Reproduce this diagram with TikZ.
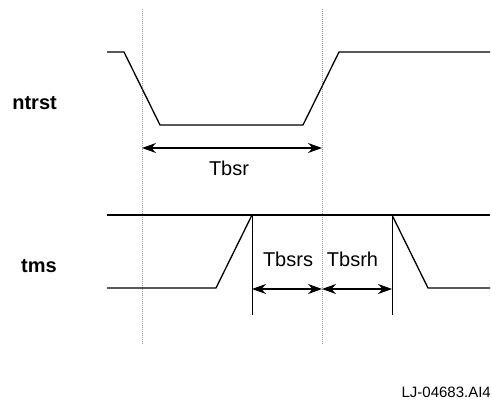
\documentclass[tikz,border=0pt]{standalone}
\usepackage{fontspec}
\setmainfont{Liberation Sans}
\usetikzlibrary{arrows.meta}
\begin{document}
\begin{tikzpicture}[x=1pt,y=-1pt,
  wave/.style={line width=1.3pt},
  guide/.style={line width=0.7pt,gray!85,dash pattern=on 1.2pt off 0.8pt},
  tick/.style={line width=0.9pt},
  dim/.style={line width=1.1pt,{Stealth[length=14pt,width=10pt]}-{Stealth[length=14pt,width=10pt]}},
  lbl/.style={font=\fontsize{20}{24}\selectfont,inner sep=0pt},
  sig/.style={font=\fontsize{20}{24}\selectfont\bfseries,inner sep=0pt,anchor=base east},
  ref/.style={font=\fontsize{15}{18}\selectfont,inner sep=0pt,anchor=base east}]
\useasboundingbox (0,0) rectangle (492,404);
% guide lines
\coordinate (g1t) at (142,9);  \coordinate (g1b) at (142,344);
\coordinate (g2t) at (322,9);  \coordinate (g2b) at (322,344);
\draw[guide] (g1t) -- (g1b);
\draw[guide] (g2t) -- (g2b);
% ntrst waveform
\coordinate (n0) at (107,52);
\coordinate (n1) at (124,52);
\coordinate (n2) at (160,125);
\coordinate (n3) at (303,125);
\coordinate (n4) at (339,52);
\coordinate (n5) at (490,52);
\draw[wave] (n0) -- (n1) -- (n2) -- (n3) -- (n4) -- (n5);
% tms waveform
\coordinate (th0) at (107,215);
\coordinate (th1) at (490,215);
\draw[wave] (th0) -- (th1);
\coordinate (t0) at (107,288);
\coordinate (t1) at (216,288);
\coordinate (t2) at (252,215);
\coordinate (t3) at (392,215);
\coordinate (t4) at (428,288);
\coordinate (t5) at (490,288);
\draw[wave] (t0) -- (t1) -- (t2);
\draw[wave] (t3) -- (t4) -- (t5);
% solid ticks
\coordinate (k1) at (252,315);
\coordinate (k2) at (392,315);
\draw[tick] (t2) -- (k1);
\draw[tick] (t3) -- (k2);
% dimension arrows
\coordinate (a1) at (142,148);
\coordinate (a2) at (322,148);
\draw[dim] (a1) -- (a2);
\coordinate (b1) at (252,289);
\coordinate (b2) at (322,289);
\coordinate (b3) at (392,289);
\draw[dim] (b1) -- (b2);
\draw[dim] (b2) -- (b3);
% labels
\node[lbl,anchor=base] (tbsr) at (229,175) {Tbsr};
\node[lbl,anchor=base] (tbsrs) at (288,266) {Tbsrs};
\node[lbl,anchor=base] (tbsrh) at (352.5,266) {Tbsrh};
\node[sig] (ntrst) at (57,109) {ntrst};
\node[sig] (tms) at (57,272) {tms};
\node[ref] (lj) at (491,397) {LJ-04683.AI4};
\end{tikzpicture}
\end{document}
